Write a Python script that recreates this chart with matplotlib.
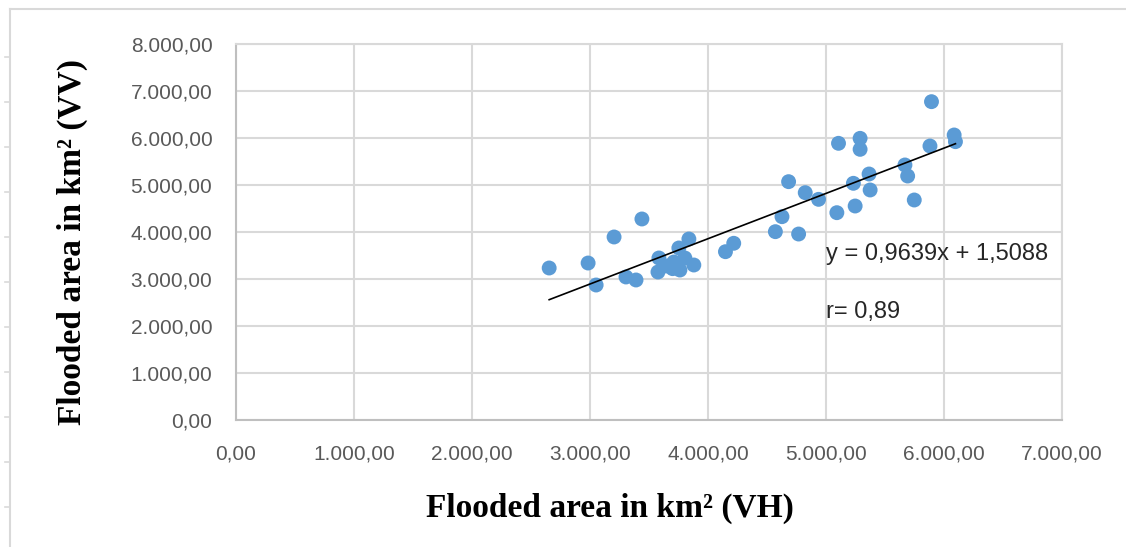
import numpy as np
import matplotlib
matplotlib.use("Agg")
import matplotlib.pyplot as plt
from matplotlib.lines import Line2D
from matplotlib.ticker import FuncFormatter

# flooded area (km2) per date, VH vs VV polarisation
vh = [2654, 2984, 3052, 3204, 3440, 3305, 3390,
      3584, 3576, 3652, 3711, 3762, 3804, 3838, 3880, 3753, 3700,
      4148, 4218,
      4683, 4824, 4937, 4627, 4571, 4768, 5092, 5247, 5232, 5374, 5365,
      5106, 5289, 5289, 5894, 5881, 6086, 6097, 5669, 5692, 5748]
vv = [3234, 3340, 2872, 3894, 4277, 3043, 2979,
      3447, 3149, 3277, 3362, 3191, 3447, 3851, 3298, 3660, 3220,
      3581, 3760,
      5071, 4837, 4695, 4326, 4007, 3957, 4411, 4553, 5036, 4894, 5234,
      5887, 5993, 5759, 6773, 5830, 6064, 5922, 5426, 5191, 4681]

slope = 0.9639
intercept = 1.5088
r_value = "0,89"

x_ticks = [0, 1000, 2000, 3000, 4000, 5000, 6000, 7000]
y_ticks = [0, 1000, 2000, 3000, 4000, 5000, 6000, 7000, 8000]


def euro_fmt(v, pos=None):
    s = f"{v:,.2f}"
    return s.replace(",", "X").replace(".", ",").replace("X", ".")


W, H = 1126, 547
fig = plt.figure(figsize=(W / 100, H / 100), dpi=100)
ax = fig.add_axes([236 / W, 1 - 420 / H, (1062 - 236) / W, (420 - 44) / H])

ax.scatter(vh, vv, s=115, color="#5B9BD5", edgecolors="none", zorder=3)

xs = np.array([min(vh), max(vh)])
ax.plot(xs, slope * xs + intercept, color="black", lw=1.2, zorder=4)

ax.set_xlim(0, 7000)
ax.set_ylim(0, 8000)
ax.set_xticks(x_ticks)
ax.set_yticks(y_ticks)
ax.xaxis.set_major_formatter(FuncFormatter(euro_fmt))
ax.yaxis.set_major_formatter(FuncFormatter(euro_fmt))
ax.grid(True, color="#D9D9D9", lw=1.5, zorder=0)
ax.set_axisbelow(True)
for side in ["top", "right"]:
    ax.spines[side].set_color("#D9D9D9")
    ax.spines[side].set_linewidth(1.5)
for side in ["left", "bottom"]:
    ax.spines[side].set_color("#BFBFBF")
    ax.spines[side].set_linewidth(1.5)
ax.tick_params(length=0, labelsize=15, labelcolor="#595959")
ax.tick_params(axis="x", pad=18)
ax.tick_params(axis="y", pad=17)
for lab in ax.get_xticklabels() + ax.get_yticklabels():
    lab.set_family("Liberation Sans")

eq = f"y = {str(slope).replace('.', ',')}x + {str(intercept).replace('.', ',')}"
ax.text(5000, 3540, eq, fontsize=17, family="Liberation Sans", color="#262626",
        va="center", ha="left")
ax.text(5000, 2300, "r= " + r_value, fontsize=17, family="Liberation Sans",
        color="#262626", va="center", ha="left")

fig.text(610 / W, 1 - 508 / H, "Flooded area in km² (VH)", fontsize=24,
         family="Liberation Serif", weight="bold", ha="center", va="center")
fig.text(72 / W, 1 - 242 / H, "Flooded area in km² (VV)", fontsize=24,
         family="Liberation Serif", weight="bold", ha="center", va="center",
         rotation=90)

# outer frame left over from the source chart
fig.add_artist(Line2D([10 / W, 10 / W], [0, 1 - 9 / H], color="#D9D9D9", lw=1.5))
fig.add_artist(Line2D([10 / W, 1], [1 - 9 / H, 1 - 9 / H], color="#D9D9D9", lw=1.5))
for py in range(57, 547, 45):
    fig.add_artist(Line2D([5 / W, 10 / W], [1 - py / H, 1 - py / H], color="#D9D9D9", lw=1.2))

fig.savefig("out.png", dpi=100)
